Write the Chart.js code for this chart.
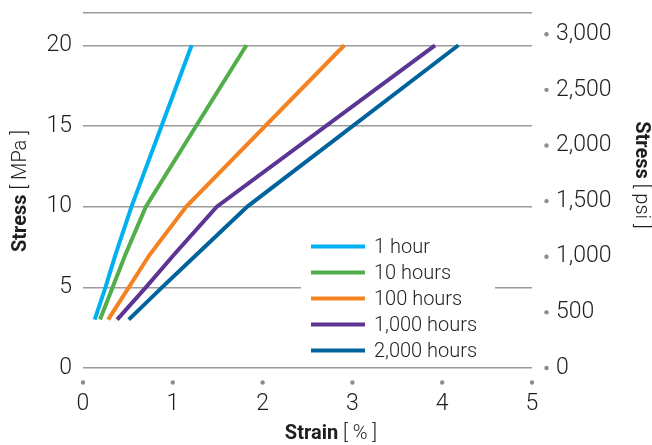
<!DOCTYPE html>
<html>
<head>
<meta charset="utf-8">
<script src="https://cdn.jsdelivr.net/npm/chart.js@4"></script>
<style>
  body { margin: 0; background: #fff; }
  #wrap { position: relative; width: 652px; height: 445px; }
</style>
</head>
<body>
<div id="wrap"><canvas id="myChart"></canvas></div>
<script>
const stress = [3, 5, 7, 10, 20];

// Strain (%) for each creep time
const strain1h = [0.13, 0.25, 0.36, 0.54, 1.21];
const strain10h = [0.19, 0.33, 0.47, 0.70, 1.82];
const strain100h = [0.28, 0.51, 0.74, 1.15, 2.91];
const strain1000h = [0.38, 0.70, 1.01, 1.49, 3.92];
const strain2000h = [0.51, 0.88, 1.26, 1.83, 4.18];

const seriesNames = ['1 hour', '10 hours', '100 hours', '1,000 hours', '2,000 hours'];
const seriesColors = ['#00b0f0', '#52ae4a', '#f58220', '#5c3494', '#00639b'];

// Tick labels
const strainTicks = [0, 1, 2, 3, 4, 5];
const mpaTicks = [0, 5, 10, 15, 20];
const psiTicks = [0, 500, 1000, 1500, 2000, 2500, 3000];

const MPA_MAX = 22;
const PSI_PER_MPA = 145.038;

const FONT = "Roboto, 'Liberation Sans', sans-serif";
const textColor = '#1e1e1e';
const dotColor = '#8c8c8c';

const allStrain = [strain1h, strain10h, strain100h, strain1000h, strain2000h];
const datasets = allStrain.map((arr, i) => ({
  label: seriesNames[i],
  data: arr.map((x, j) => ({ x: x, y: stress[j] })),
  borderColor: seriesColors[i],
  backgroundColor: seriesColors[i],
  borderWidth: 4,
  pointRadius: 0,
  tension: 0,
  fill: false,
  yAxisID: 'y'
}));

// draws the axis titles, tick dots and the legend inside the plot
const extrasPlugin = {
  id: 'extras',
  afterDraw(chart) {
    const ctx = chart.ctx;
    const xs = chart.scales.x;
    const y2 = chart.scales.y2;
    ctx.save();

    // dots above the strain labels
    ctx.fillStyle = dotColor;
    strainTicks.forEach(v => {
      ctx.beginPath();
      ctx.arc(xs.getPixelForValue(v), 382.5, 2.2, 0, Math.PI * 2);
      ctx.fill();
    });
    // dots before the psi labels
    psiTicks.forEach(v => {
      ctx.beginPath();
      ctx.arc(546.5, y2.getPixelForValue(v), 2.2, 0, Math.PI * 2);
      ctx.fill();
    });

    // legend with white backing (hides the 5 MPa grid line)
    ctx.fillStyle = '#fff';
    ctx.fillRect(301, 234, 194, 128);
    ctx.font = '300 20px ' + FONT;
    ctx.textBaseline = 'middle';
    ctx.textAlign = 'left';
    seriesNames.forEach((name, i) => {
      const yy = 246.5 + i * 26;
      ctx.strokeStyle = seriesColors[i];
      ctx.lineWidth = 4;
      ctx.beginPath();
      ctx.moveTo(311, yy);
      ctx.lineTo(365, yy);
      ctx.stroke();
      ctx.fillStyle = textColor;
      ctx.fillText(name, 374, yy + 1);
    });

    // titles: bold word + light unit
    function title(bold, light, cx, cy, rot) {
      ctx.save();
      ctx.translate(cx, cy);
      ctx.rotate(rot);
      ctx.textBaseline = 'middle';
      ctx.textAlign = 'left';
      ctx.font = 'bold 20px ' + FONT;
      const wb = ctx.measureText(bold).width;
      ctx.font = '300 20px ' + FONT;
      const wl = ctx.measureText(light).width;
      let x0 = -(wb + wl) / 2;
      ctx.fillStyle = textColor;
      ctx.font = 'bold 20px ' + FONT;
      ctx.fillText(bold, x0, 0);
      ctx.font = '300 20px ' + FONT;
      ctx.fillText(light, x0 + wb, 0);
      ctx.restore();
    }
    title('Stress', ' [ MPa ]', 21, 191, -Math.PI / 2);
    title('Stress', ' [ psi ]', 641, 175, Math.PI / 2);
    title('Strain', ' [ % ]', 331, 434, 0);

    ctx.restore();
  }
};

const myChart = new Chart(document.getElementById('myChart'), {
  type: 'line',
  data: { datasets: datasets },
  options: {
    responsive: true,
    maintainAspectRatio: false,
    animation: false,
    layout: { padding: { top: 13 } },
    plugins: {
      legend: { display: false },
      tooltip: { enabled: false }
    },
    scales: {
      x: {
        type: 'linear',
        min: 0,
        max: 5,
        afterBuildTicks: s => { s.ticks = strainTicks.map(v => ({ value: v })); },
        afterFit: s => { s.height = 77; s.paddingLeft = 0; s.paddingRight = 0; },
        grid: { display: false },
        border: { display: false },
        ticks: {
          padding: 14,
          color: textColor,
          font: { family: FONT, size: 23, weight: '300' },
          maxRotation: 0
        }
      },
      y: {
        position: 'left',
        min: 0,
        max: MPA_MAX,
        afterBuildTicks: s => { s.ticks = mpaTicks.concat([MPA_MAX]).map(v => ({ value: v })); },
        afterFit: s => { s.width = 83; s.paddingTop = 0; s.paddingBottom = 0; },
        grid: { color: '#9b9b9b', lineWidth: 1.5, drawTicks: false },
        border: { display: false },
        ticks: {
          padding: 11,
          color: textColor,
          font: { family: FONT, size: 23, weight: '300' },
          callback: v => (v === MPA_MAX ? '' : v)
        }
      },
      y2: {
        position: 'right',
        min: 0,
        max: MPA_MAX * PSI_PER_MPA,
        afterBuildTicks: s => { s.ticks = psiTicks.map(v => ({ value: v })); },
        afterFit: s => { s.width = 120; s.paddingTop = 0; s.paddingBottom = 0; },
        grid: { display: false, drawTicks: false },
        border: { display: false },
        ticks: {
          padding: 24,
          color: textColor,
          font: { family: FONT, size: 23, weight: '300' },
          callback: v => v.toLocaleString('en-US')
        }
      }
    }
  },
  plugins: [extrasPlugin]
});
</script>
</body>
</html>
